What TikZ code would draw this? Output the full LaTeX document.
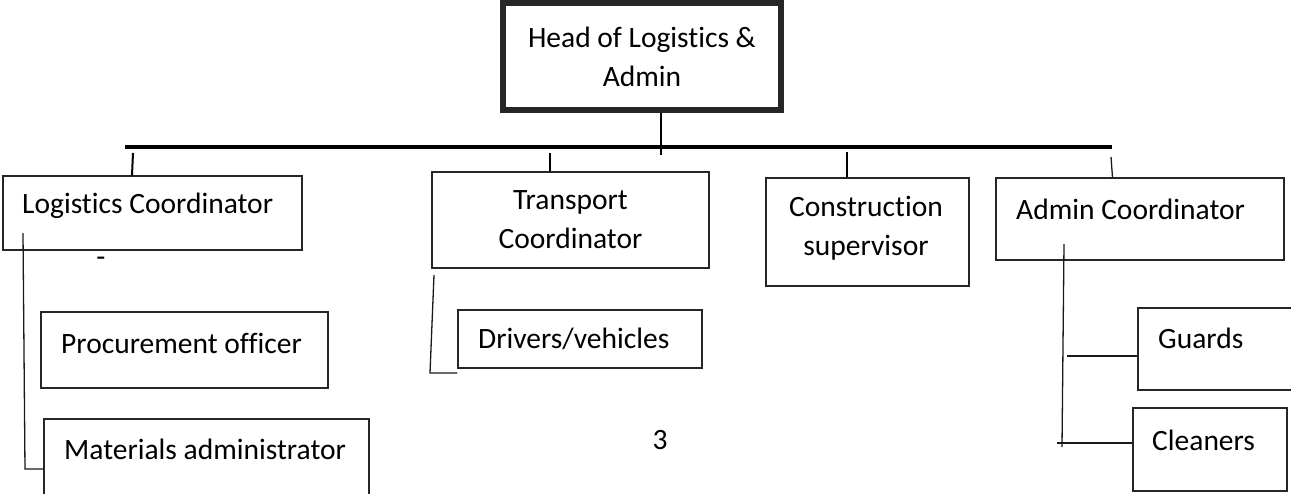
\documentclass[tikz,border=0pt]{standalone}
\usepackage{fontspec}
\setmainfont{Carlito}[Ligatures={NoCommon}]
\usetikzlibrary{positioning}

\begin{document}
\begin{tikzpicture}[
  x=1pt, y=-1pt,
  font=\fontsize{29.5}{39}\selectfont,
  box/.style={draw=black!85, line width=1.3pt, inner sep=0pt, align=center},
  txt/.style={inner sep=0pt, anchor=west},
  bus/.style={line width=4pt},
  tick/.style={line width=2pt},
  link/.style={line width=1.3pt, draw=black!90},
]
\useasboundingbox (0,0) rectangle (1291,493);
\clip (0,0) rectangle (1291,493);
% head of the chart
\node[box, line width=5.5pt, minimum width=278, minimum height=107] (head) at (642,56.5) {Head of Logistics \&\\Admin};
% second row
\node[box, minimum width=299, minimum height=74] (logco) at (152.5,213) {};
\node[txt] (logcotxt) at (22,206) {Logistics Coordinator};
\node[box, minimum width=277, minimum height=96] (trco) at (570.5,220) {Transport\\Coordinator};
\node[box, minimum width=203, minimum height=108] (consup) at (867.5,232) {};
\node[inner sep=0pt, align=center] (consuptxt) at (866,228) {Construction\\supervisor};
\node[box, minimum width=288, minimum height=82] (adco) at (1140,219) {};
\node[txt] (adcotxt) at (1016,209) {Admin Coordinator};
% third row
\node[box, minimum width=287, minimum height=76] (proc) at (184.5,350) {};
\node[txt] (proctxt) at (61,343) {Procurement officer};
\node[box, minimum width=325, minimum height=101] (matad) at (206.5,469.5) {};
\node[txt] (matadtxt) at (64,449) {Materials administrator};
\node[box, minimum width=244, minimum height=58] (drv) at (580,339) {};
\node[txt] (drvtxt) at (478,339) {Drivers/vehicles};
\node[box, minimum width=182, minimum height=82] (guards) at (1229,349) {};
\node[txt] (guardstxt) at (1158,338) {Guards};
\node[box, minimum width=154, minimum height=83] (clean) at (1210,449.5) {};
\node[txt] (cleantxt) at (1152,440) {Cleaners};
% stray marks
\node[inner sep=0pt] (dash) at (101,262) {-};
\node[inner sep=0pt] (pgno) at (660,440) {3};
% main bus
\coordinate (busL) at (125,147);
\coordinate (busR) at (1112,147);
\coordinate (stem) at (661,155);
\draw[bus] (busL) -- (busR);
\draw[tick] (stem |- head.south) -- (stem);
\coordinate (t1) at (133,153);
\coordinate (t2) at (550,153);
\coordinate (t3) at (847,152);
\coordinate (t4) at (1111,157);
\draw[tick] (t1) -- ([xshift=-1]t1 |- logco.north);
\draw[tick] (t2) -- (t2 |- trco.north);
\draw[tick] (t3) -- (t3 |- consup.north);
\draw[link] (t4) -- ([xshift=1.5]t4 |- adco.north);
% branches to the third row
\coordinate (lcdrop) at (23,233);
\coordinate (lcfoot) at (25,469);
\draw[link] (lcdrop) -- (lcfoot) -- (lcfoot -| matad.west);
\coordinate (trdrop) at (434,275);
\coordinate (trfoot) at (430,373);
\draw[link] (trdrop) -- (trfoot) -- (trfoot -| drv.west);
\coordinate (addrop) at (1064,244);
\coordinate (adfoot) at (1062,447);
\draw[link] (addrop) -- (adfoot);
\coordinate (gdj) at (1067,356);
\coordinate (clj) at (1057,443);
\draw[link] (gdj) -- (gdj -| guards.west);
\draw[link] (clj) -- (clj -| clean.west);
\end{tikzpicture}
\end{document}
